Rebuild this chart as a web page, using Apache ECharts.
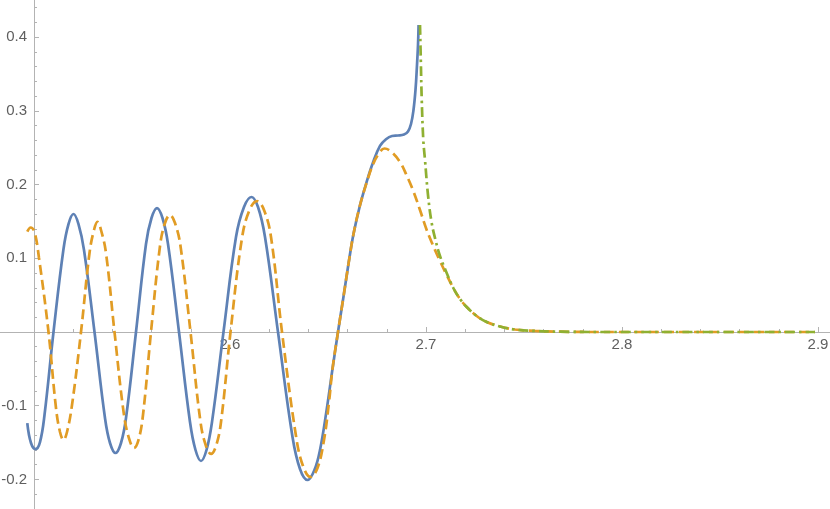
<!DOCTYPE html>
<html>
<head>
<meta charset="utf-8">
<script src="https://cdn.jsdelivr.net/npm/echarts@6/dist/echarts.min.js"></script>
<style>
    html, body { margin: 0; padding: 0; background: #fff; }
    #chart { width: 830px; height: 509px; }
</style>
</head>
<body>
<div id="chart"></div>
<script>
// points, [x, y]
var solidCurve = [
    [2.49658, -0.1235], [2.49847, -0.1506], [2.50077, -0.1588], [2.50306, -0.1493],
    [2.50536, -0.1126], [2.50995, 0], [2.51505, 0.1126], [2.5176, 0.1465],
    [2.52015, 0.1601], [2.5227, 0.1465], [2.52551, 0.1113], [2.53087, 0],
    [2.53622, -0.1167], [2.53878, -0.1506], [2.54158, -0.1642], [2.54439, -0.1506],
    [2.54694, -0.1167], [2.55204, 0], [2.55714, 0.1194], [2.55995, 0.1547],
    [2.56276, 0.1682], [2.56556, 0.1547], [2.56837, 0.1194], [2.57398, 0],
    [2.57959, -0.1221], [2.5824, -0.1601], [2.5852, -0.175], [2.58801, -0.1601],
    [2.59082, -0.1221], [2.59668, 0], [2.60306, 0.1289], [2.60714, 0.1696],
    [2.61097, 0.1832], [2.61429, 0.1696], [2.61786, 0.1289], [2.62449, 0],
    [2.63189, -0.1425], [2.63571, -0.1859], [2.63954, -0.2008], [2.64311, -0.187],
    [2.64592, -0.16], [2.64923, -0.107], [2.6523, -0.05], [2.6551, 0],
    [2.65791, 0.048], [2.66046, 0.0925], [2.66301, 0.133], [2.66633, 0.172],
    [2.66964, 0.203], [2.67296, 0.23], [2.67653, 0.2525], [2.67959, 0.2615],
    [2.68265, 0.2659], [2.68571, 0.2666], [2.68878, 0.268], [2.69082, 0.2721],
    [2.69235, 0.2822], [2.69362, 0.3012], [2.69464, 0.3284], [2.69541, 0.3623],
    [2.69592, 0.3894], [2.69622, 0.4166]
];

var dashedCurve = [
    [2.49658, 0.1361], [2.49832, 0.1418], [2.50026, 0.1357], [2.50255, 0.1004],
    [2.5074, 0], [2.51122, -0.1031], [2.51327, -0.1357], [2.51505, -0.1465],
    [2.51684, -0.1357], [2.51939, -0.0991], [2.52398, 0], [2.52832, 0.1072],
    [2.53061, 0.1384], [2.5324, 0.1493], [2.53418, 0.1384], [2.53673, 0.1072],
    [2.54107, 0], [2.54592, -0.1126], [2.54872, -0.1465], [2.55102, -0.1574],
    [2.55332, -0.1465], [2.55561, -0.1126], [2.55969, 0], [2.56429, 0.1167],
    [2.56684, 0.1479], [2.56939, 0.1588], [2.57194, 0.1479], [2.57474, 0.1167],
    [2.57985, 0], [2.58495, -0.1221], [2.58776, -0.1547], [2.59031, -0.1655],
    [2.59286, -0.1547], [2.59541, -0.1221], [2.60026, 0], [2.60612, 0.1275],
    [2.60995, 0.1655], [2.61378, 0.1777], [2.61735, 0.1655], [2.62092, 0.1289],
    [2.62653, 0], [2.63367, -0.1411], [2.63724, -0.1818], [2.64107, -0.1967],
    [2.64464, -0.1845], [2.64796, -0.1465], [2.65051, -0.095], [2.6523, -0.05],
    [2.6551, 0], [2.65791, 0.048], [2.66046, 0.0925], [2.66301, 0.133],
    [2.66633, 0.172], [2.66964, 0.202], [2.67296, 0.2275], [2.67577, 0.2415],
    [2.67883, 0.249], [2.68214, 0.2449], [2.68673, 0.2307], [2.69005, 0.213],
    [2.69352, 0.1913], [2.69694, 0.1655], [2.70036, 0.1384], [2.70372, 0.1167],
    [2.70714, 0.0963], [2.71056, 0.0773], [2.71393, 0.0597], [2.71735, 0.0448],
    [2.72077, 0.0339], [2.72587, 0.0217], [2.73097, 0.0136], [2.73776, 0.0075],
    [2.7454, 0.0034], [2.75561, 0.0014], [2.76837, 0.0004], [2.78878, 0],
    [2.89847, 0]
];

var dotDashedCurve = [
    [2.69694, 0.4166], [2.69735, 0.3691], [2.6978, 0.3175], [2.69862, 0.2605],
    [2.69949, 0.2334], [2.70102, 0.1859], [2.70281, 0.1493], [2.70485, 0.1248],
    [2.70714, 0.1031], [2.71056, 0.0801], [2.71393, 0.0597], [2.71735, 0.0448],
    [2.72077, 0.0339], [2.72587, 0.0217], [2.73097, 0.0136], [2.73776, 0.0075],
    [2.7454, 0.0034], [2.75561, 0.0014], [2.76837, 0.0004], [2.78878, 0],
    [2.89847, 0]
];

var xTickLabels = ["2.6", "2.7", "2.8", "2.9"];
var yTickLabels = ["-0.2", "-0.1", "0.1", "0.2", "0.3", "0.4"];

var axisGray = "#b3b3b3";
var labelGray = "#5f5f5f";

function tickFormatter(labels) {
    return function (value) {
        var s = value.toFixed(1);
        if (s === "-0.0") s = "0.0";
        return labels.indexOf(s) >= 0 ? s : "";
    };
}

function curve(data, color, type) {
    return {
        type: "line",
        data: data,
        showSymbol: false,
        smooth: 0.4,
        silent: true,
        lineStyle: { color: color, width: 2.7, type: type, cap: "butt" }
    };
}

var chart = echarts.init(document.getElementById("chart"));
chart.setOption({
    animation: false,
    // the grid runs past the canvas so both axes can use whole 0.1 steps;
    // the axes are then pulled in to x = 2.5 and y = 0 with offset
    grid: {
        left: -162, right: -184, top: -36.5, bottom: -44.1,
        containLabel: false,
        outerBoundsMode: "none"
    },
    xAxis: {
        type: "value",
        min: 2.4,
        max: 3.0,
        interval: 0.1,
        offset: -221.1,
        axisLine: { onZero: false, lineStyle: { color: axisGray, width: 1 } },
        axisTick: { inside: true, length: 5, lineStyle: { color: axisGray } },
        minorTick: { show: true, splitNumber: 5, length: 3, lineStyle: { color: axisGray } },
        splitLine: { show: false },
        axisLabel: {
            color: labelGray,
            fontFamily: "Liberation Sans",
            fontSize: 15,
            margin: 5,
            formatter: tickFormatter(xTickLabels)
        }
    },
    yAxis: {
        type: "value",
        min: -0.3,
        max: 0.5,
        interval: 0.1,
        offset: -196,
        axisLine: { show: true, onZero: false, lineStyle: { color: axisGray, width: 1 } },
        axisTick: { show: true, inside: true, length: 5, lineStyle: { color: axisGray } },
        minorTick: { show: true, splitNumber: 5, length: 3, lineStyle: { color: axisGray } },
        splitLine: { show: false },
        axisLabel: {
            color: labelGray,
            fontFamily: "Liberation Sans",
            fontSize: 15,
            margin: 7,
            formatter: tickFormatter(yTickLabels)
        }
    },
    series: [
        curve(solidCurve, "#5E81B5", "solid"),
        curve(dashedCurve, "#E19C24", [10, 5]),
        curve(dotDashedCurve, "#8FB032", [10, 4, 2.5, 4])
    ]
});
</script>
</body>
</html>
